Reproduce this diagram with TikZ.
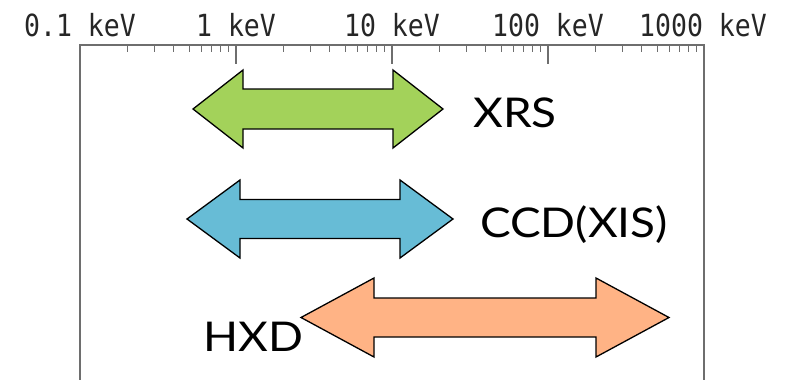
\documentclass[tikz,border=0pt]{standalone}
\usepackage{fontspec}
\setmainfont{Lato}
\newfontfamily\scalefont{DejaVu Sans Mono}
\definecolor{axisgray}{RGB}{110,110,110}
\definecolor{xrsgreen}{RGB}{163,210,90}
\definecolor{ccdblue}{RGB}{103,188,214}
\definecolor{hxdorange}{RGB}{255,179,133}
\newcommand\dblarrow[7]{% fill, x1, x2, yc, headlen, headhalf, shafthalf
  \draw[arrowshape,fill=#1]
    (#2,#4) -- (#2+#5,#4-#6) -- (#2+#5,#4-#7) -- (#3-#5,#4-#7) -- (#3-#5,#4-#6)
    -- (#3,#4) -- (#3-#5,#4+#6) -- (#3-#5,#4+#7) -- (#2+#5,#4+#7) -- (#2+#5,#4+#6) -- cycle;}
\begin{document}
\begin{tikzpicture}[x=1pt,y=-1pt,
  axisline/.style={draw=axisgray,line width=1.2pt},
  ticklab/.style={anchor=base,inner sep=0pt,font=\scalefont\fontsize{26.5}{30}\selectfont,text=black!85},
  arrowshape/.style={draw=black,line width=1.3pt,line join=miter},
  detlab/.style={anchor=base west,inner sep=0pt,font=\fontsize{41}{48}\selectfont}]
\useasboundingbox (0,0) rectangle (785,380);
% axis frame
\draw[axisline] (80,380) -- (80,45) -- (704,45) -- (704,380);
% major ticks
\foreach \d in {1,2,3} \draw[axisline] (80+156*\d,45) -- (80+156*\d,64);
% minor ticks
\foreach \d in {0,1,2,3} \foreach \k in {2,...,9}
  \draw[axisline,line width=0.9pt] ({80+156*\d+156*log10(\k)},45) -- ({80+156*\d+156*log10(\k)},52);
% labels
\node[ticklab] (l0) at (80,36) {\scalebox{1}[1.15]{0.1 keV}};
\node[ticklab] (l1) at (236,36) {\scalebox{1}[1.15]{1 keV}};
\node[ticklab] (l2) at (392,36) {\scalebox{1}[1.15]{10 keV}};
\node[ticklab] (l3) at (548,36) {\scalebox{1}[1.15]{100 keV}};
\node[ticklab] (l4) at (703,36) {\scalebox{1}[1.15]{1000 keV}};
% arrows
\dblarrow{xrsgreen}{193}{443}{109}{50}{39}{20}
\dblarrow{ccdblue}{187}{453}{219}{53}{39}{19.5}
\dblarrow{hxdorange}{301}{669}{317.5}{73}{39.5}{19.5}
% detector labels
\node[detlab] (xrs) at (473,127) {\scalebox{1.12}[1]{XRS}};
\node[detlab] (ccd) at (480,237) {\scalebox{1.12}[1]{CCD(XIS)}};
\node[detlab] (hxd) at (203,351) {\scalebox{1.12}[1]{HXD}};
\end{tikzpicture}
\end{document}
